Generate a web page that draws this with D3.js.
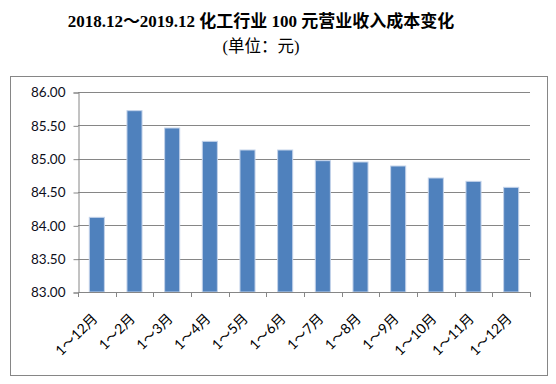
<!DOCTYPE html>
<html><head><meta charset="utf-8">
<script src="https://cdn.jsdelivr.net/npm/d3@7"></script>
<style>
body{margin:0;background:#fff;}
svg{display:block;}
</style></head>
<body><svg id="c" width="556" height="384"></svg>
<script>
const categories = ["1～12月","1～2月","1～3月","1～4月","1～5月","1～6月","1～7月","1～8月","1～9月","1～10月","1～11月","1～12月"];
const values = [84.12, 85.72, 85.46, 85.26, 85.13, 85.13, 84.97, 84.95, 84.89, 84.71, 84.66, 84.57];
const yTicks = [83.0, 83.5, 84.0, 84.5, 85.0, 85.5, 86.0];
const titleText = "2018.12～2019.12 化工行业 100 元营业收入成本变化";
const subtitleText = "(单位：元)";

const svg = d3.select("#c");
const L = 78, R = 530, T = 92, B = 292;
const grid = "#868686";

svg.append("rect").attr("x",10.5).attr("y",76.5).attr("width",537).attr("height",299)
  .attr("fill","none").attr("stroke",grid).attr("stroke-width",1);

svg.append("text").attr("x",261).attr("y",27).attr("text-anchor","middle")
  .attr("font-family","'Liberation Serif','Noto Sans CJK SC'").attr("font-weight","bold")
  .attr("font-size",17).attr("fill","#000").text(titleText);
svg.append("text").attr("x",261).attr("y",52).attr("text-anchor","middle")
  .attr("font-family","'Liberation Serif','Noto Sans CJK SC'")
  .attr("font-size",16.5).attr("fill","#000").text(subtitleText);

const x = d3.scaleBand().domain(d3.range(categories.length)).range([L,R]).paddingInner(0.6).paddingOuter(0.3);
const y = d3.scaleLinear().domain([83,86]).range([B,T]);

// gridlines
svg.append("g").selectAll("line").data(yTicks).join("line")
  .attr("x1",L).attr("x2",R).attr("y1",d=>Math.round(y(d))+0.5).attr("y2",d=>Math.round(y(d))+0.5)
  .attr("stroke",grid).attr("stroke-width",1);

// bars
svg.append("g").selectAll("rect").data(values).join("rect")
  .attr("x",(d,i)=>x(i)).attr("width",x.bandwidth())
  .attr("y",d=>y(d)).attr("height",d=>B-y(d))
  .attr("fill","#4F81BD").attr("stroke","#c3d3ea").attr("stroke-width",1);

// y axis
const yAxis = d3.axisLeft(y).tickValues(yTicks).tickFormat(d3.format(".2f")).tickSize(5).tickPadding(8);
const gy = svg.append("g").attr("transform",`translate(${L+0.5},0.5)`).call(yAxis);
gy.select(".domain").attr("stroke",grid);
gy.selectAll(".tick line").attr("stroke",grid);
gy.selectAll(".tick text").attr("font-family","Lato,'Noto Sans CJK SC'").attr("font-size",13.5).attr("fill","#0d0d1a");

// x axis
const boundaries = d3.range(categories.length+1);
const xb = d3.scaleLinear().domain([0,categories.length]).range([L,R]);
svg.append("line").attr("x1",L).attr("x2",R).attr("y1",B+0.5).attr("y2",B+0.5).attr("stroke",grid);
svg.append("g").selectAll("line").data(boundaries).join("line")
  .attr("x1",d=>Math.round(xb(d))+0.5).attr("x2",d=>Math.round(xb(d))+0.5)
  .attr("y1",B).attr("y2",B+5).attr("stroke",grid);

svg.append("g").selectAll("text").data(categories).join("text")
  .attr("transform",(d,i)=>`translate(${x(i)+x.bandwidth()/2-2},${B+24}) rotate(-45)`)
  .attr("text-anchor","end").attr("dy","0.35em")
  .attr("font-family","Lato,'Noto Sans CJK SC'").attr("font-size",14).attr("fill","#000")
  .text(d=>d);
</script></body></html>
